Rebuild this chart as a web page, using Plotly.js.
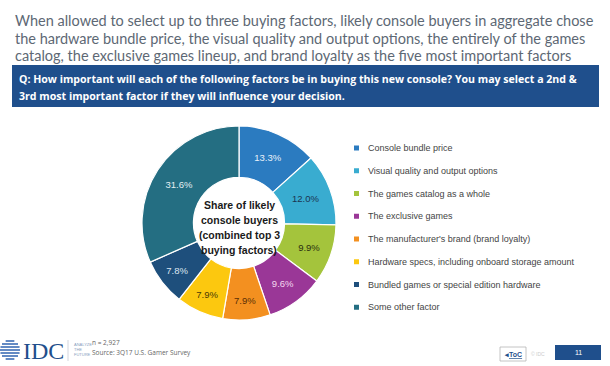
<!DOCTYPE html>
<html>
<head>
<meta charset="utf-8">
<script src="https://cdn.plot.ly/plotly-3.0.1.min.js"></script>
<style>html,body{margin:0;padding:0;background:#fff;}#chart{width:610px;height:366px;}</style>
</head>
<body>
<div id="chart"></div>
<script>
const categories = [
  "Console bundle price",
  "Visual quality and output options",
  "The games catalog as a whole",
  "The exclusive games",
  "The manufacturer's brand (brand loyalty)",
  "Hardware specs, including onboard storage amount",
  "Bundled games or special edition hardware",
  "Some other factor"
];
const shares = [13.3, 12.0, 9.9, 9.6, 7.9, 7.9, 7.8, 31.6];
const sliceColors = ["#2b7bc0", "#39acd0", "#a4c43c", "#9a3797", "#f39020", "#fcc80f", "#1e4f7c", "#246e82"];
const labelColors = ["#e8f0fa", "#1c3450", "#2a2f10", "#f4d8f0", "#5a2e05", "#4a3a05", "#dce6f0", "#e3eef2"];
const titleLines = [
  "When allowed to select up to three buying factors, likely console buyers in aggregate chose",
  "the hardware bundle price, the visual quality and output options, the entirely of the games",
  "catalog, the exclusive games lineup, and brand loyalty as the five most important factors"
];
const questionLines = [
  "Q: How important will each of the following factors be in buying this new console? You may select a 2nd &",
  "3rd most important factor if they will influence your decision."
];
const centerLines = ["Share of likely", "console buyers", "(combined top 3", "buying factors)"];
const footnoteLines = ["n = 2,927", "Source: 3Q17 U.S. Gamer Survey"];

const W = 610, H = 366;
const px = x => x / W;
const py = y => 1 - y / H;

const cx = 239, cy = 223, R = 97;

const trace = {
  type: "pie",
  labels: categories,
  values: shares,
  sort: false,
  direction: "clockwise",
  rotation: 0,
  hole: 0.47,
  marker: { colors: sliceColors, line: { color: "#ffffff", width: 1.2 } },
  texttemplate: "%{value:.1f}%",
  textposition: "inside",
  insidetextorientation: "horizontal",
  textfont: { family: "Liberation Sans, Arial, sans-serif", size: 9.5, color: labelColors },
  hoverinfo: "label+value",
  showlegend: false,
  domain: { x: [px(cx - R), px(cx + R)], y: [py(cy + R), py(cy - R)] }
};

const annotations = [];
const shapes = [];

// Title (one annotation per line for exact spacing)
const titleY = [21, 38, 55];
titleLines.forEach((t, i) => {
  annotations.push({
    xref: "paper", yref: "paper", x: px(13), y: py(titleY[i]), xanchor: "left", yanchor: "middle",
    align: "left", showarrow: false, text: t,
    font: { family: "Lato, sans-serif", size: 14.5, color: "#5d6874" }
  });
});

// Question box
shapes.push({ type: "rect", xref: "paper", yref: "paper", x0: px(12), x1: px(599), y0: py(107), y1: py(65),
  fillcolor: "#1f4f8c", line: { width: 0 } });
const qY = [79, 96];
questionLines.forEach((t, i) => {
  annotations.push({
    xref: "paper", yref: "paper", x: px(17), y: py(qY[i]), xanchor: "left", yanchor: "middle",
    align: "left", showarrow: false, text: "<b>" + t + "</b>",
    font: { family: "Open Sans, sans-serif", size: 10.6, color: "#ffffff" }
  });
});

// Center text
const cY = [205, 220, 235, 250];
centerLines.forEach((t, i) => {
  annotations.push({
    xref: "paper", yref: "paper", x: px(cx), y: py(cY[i]), xanchor: "center", yanchor: "middle",
    align: "center", showarrow: false, text: "<b>" + t + "</b>",
    font: { family: "Liberation Sans, Arial, sans-serif", size: 10.5, color: "#1a1a1a" }
  });
});

// Custom legend
const legY0 = 148, legStep = 22.75;
categories.forEach((c, i) => {
  const y = legY0 + i * legStep;
  shapes.push({ type: "rect", xref: "paper", yref: "paper",
    x0: px(354), x1: px(359), y0: py(y + 2.5), y1: py(y - 2.5),
    fillcolor: sliceColors[i], line: { width: 0 } });
  annotations.push({
    xref: "paper", yref: "paper", x: px(366), y: py(y), xanchor: "left", yanchor: "middle",
    showarrow: false, text: c,
    font: { family: "Liberation Sans, Arial, sans-serif", size: 9, color: "#444444" }
  });
});

// Footer: IDC logo
for (let k = 0; k < 7; k++) {
  const yy = 341 + k * 3;
  const dy = Math.abs(yy - 350);
  const half = Math.sqrt(Math.max(0, 100 - dy * dy));
  shapes.push({ type: "line", xref: "paper", yref: "paper",
    x0: px(10 - half), x1: px(10 + half), y0: py(yy), y1: py(yy),
    line: { color: "#3a6db5", width: 1.6 } });
}
annotations.push({
  xref: "paper", yref: "paper", x: px(21), y: py(351), xanchor: "left", yanchor: "middle",
  showarrow: false, text: "IDC",
  font: { family: "Liberation Serif, DejaVu Serif, serif", size: 24, color: "#1f4f8c" }
});
shapes.push({ type: "line", xref: "paper", yref: "paper", x0: px(68), x1: px(68), y0: py(340), y1: py(361),
  line: { color: "#c8ccd4", width: 0.8 } });
["ANALYZE", "THE", "FUTURE"].forEach((t, i) => {
  annotations.push({
    xref: "paper", yref: "paper", x: px(72), y: py(344 + i * 5), xanchor: "left", yanchor: "middle",
    showarrow: false, text: t,
    font: { family: "Liberation Sans, Arial, sans-serif", size: 4, color: "#8aa0c0" }
  });
});
footnoteLines.forEach((t, i) => {
  annotations.push({
    xref: "paper", yref: "paper", x: px(90), y: py(342 + i * 10), xanchor: "left", yanchor: "middle",
    showarrow: false, text: t,
    font: { family: "Open Sans, sans-serif", size: 6.5, color: "#666666" }
  });
});

// ToC button
shapes.push({ type: "rect", xref: "paper", yref: "paper", x0: px(500), x1: px(526), y0: py(361), y1: py(347),
  fillcolor: "#ffffff", line: { color: "#b5b5b5", width: 0.8 } });
annotations.push({
  xref: "paper", yref: "paper", x: px(513), y: py(354), xanchor: "center", yanchor: "middle",
  showarrow: false, text: "<b>◂<u>ToC</u></b>",
  font: { family: "Liberation Sans, Arial, sans-serif", size: 7, color: "#1f4f8c" }
});
annotations.push({
  xref: "paper", yref: "paper", x: px(538), y: py(354), xanchor: "center", yanchor: "middle",
  showarrow: false, text: "© IDC",
  font: { family: "Liberation Sans, Arial, sans-serif", size: 5, color: "#cccccc" }
});
shapes.push({ type: "rect", xref: "paper", yref: "paper", x0: px(555), x1: px(601), y0: py(360), y1: py(345),
  fillcolor: "#1f4f8c", line: { width: 0 } });
annotations.push({
  xref: "paper", yref: "paper", x: px(578), y: py(352.5), xanchor: "center", yanchor: "middle",
  showarrow: false, text: "11",
  font: { family: "Liberation Sans, Arial, sans-serif", size: 7, color: "#ffffff" }
});

const layout = {
  width: W, height: H,
  margin: { l: 0, r: 0, t: 0, b: 0 },
  paper_bgcolor: "#ffffff",
  plot_bgcolor: "#ffffff",
  showlegend: false,
  annotations: annotations,
  shapes: shapes
};

Plotly.newPlot("chart", [trace], layout, { displayModeBar: false, staticPlot: true });
</script>
</body>
</html>
